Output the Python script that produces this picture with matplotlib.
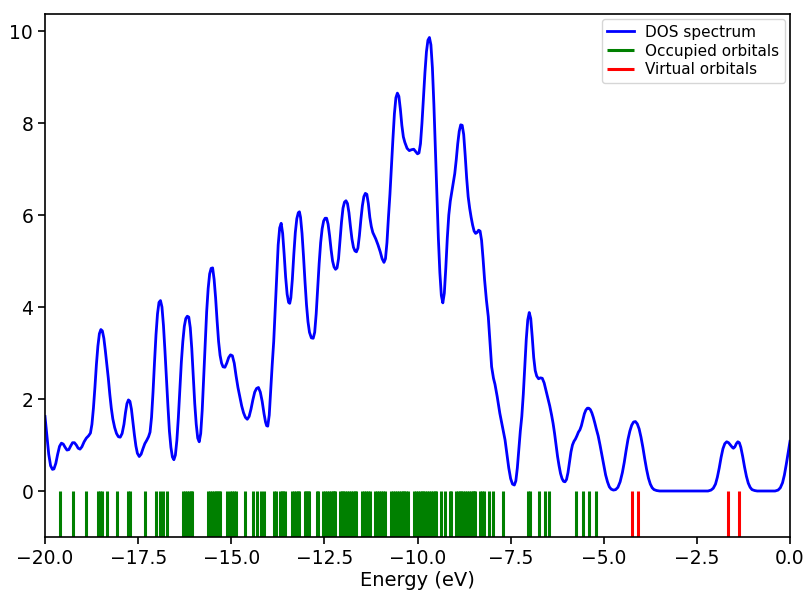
#!/usr/bin/python3

"""DOS spectrum with occupied and virtual orbital levels."""

import matplotlib
matplotlib.use('Agg')
import matplotlib.pyplot as plt


# DOS curve: energy (eV), density
dos_energy = [
    -20.00, -19.95, -19.90, -19.85, -19.80, -19.76, -19.71, -19.66, -19.61, -19.56,
    -19.51, -19.46, -19.41, -19.36, -19.31, -19.26, -19.21, -19.16, -19.11, -19.06,
    -19.01, -18.95, -18.89, -18.83, -18.78, -18.74, -18.70, -18.66, -18.62, -18.58,
    -18.54, -18.50, -18.46, -18.42, -18.38, -18.34, -18.30, -18.26, -18.22, -18.18,
    -18.13, -18.08, -18.03, -17.98, -17.93, -17.88, -17.84, -17.80, -17.76, -17.72,
    -17.68, -17.64, -17.60, -17.56, -17.52, -17.47, -17.42, -17.37, -17.32, -17.27,
    -17.22, -17.18, -17.14, -17.10, -17.06, -17.02, -16.98, -16.94, -16.90, -16.86,
    -16.82, -16.78, -16.74, -16.70, -16.66, -16.62, -16.58, -16.54, -16.50, -16.46,
    -16.42, -16.38, -16.34, -16.30, -16.26, -16.22, -16.18, -16.14, -16.10, -16.06,
    -16.02, -15.98, -15.94, -15.90, -15.86, -15.82, -15.78, -15.74, -15.70, -15.66,
    -15.62, -15.58, -15.54, -15.50, -15.46, -15.42, -15.38, -15.34, -15.30, -15.26,
    -15.22, -15.17, -15.12, -15.07, -15.02, -14.97, -14.92, -14.87, -14.82, -14.77,
    -14.72, -14.67, -14.62, -14.57, -14.52, -14.47, -14.42, -14.37, -14.32, -14.27,
    -14.22, -14.17, -14.12, -14.08, -14.05, -14.02, -13.98, -13.94, -13.90, -13.86,
    -13.82, -13.78, -13.74, -13.70, -13.66, -13.62, -13.58, -13.54, -13.50, -13.46,
    -13.43, -13.40, -13.36, -13.32, -13.28, -13.24, -13.20, -13.17, -13.14, -13.10,
    -13.06, -13.02, -12.98, -12.94, -12.90, -12.85, -12.80, -12.76, -12.72, -12.68,
    -12.64, -12.60, -12.56, -12.52, -12.48, -12.44, -12.40, -12.36, -12.32, -12.28,
    -12.24, -12.20, -12.16, -12.12, -12.08, -12.04, -12.00, -11.96, -11.92, -11.88,
    -11.84, -11.80, -11.76, -11.72, -11.68, -11.64, -11.60, -11.56, -11.52, -11.48,
    -11.44, -11.40, -11.36, -11.32, -11.28, -11.24, -11.20, -11.16, -11.12, -11.06,
    -11.00, -10.95, -10.90, -10.86, -10.82, -10.78, -10.74, -10.70, -10.66, -10.62,
    -10.58, -10.54, -10.50, -10.46, -10.42, -10.38, -10.34, -10.28, -10.22, -10.16,
    -10.10, -10.05, -10.00, -9.96, -9.92, -9.88, -9.84, -9.80, -9.76, -9.72,
    -9.68, -9.64, -9.60, -9.56, -9.52, -9.48, -9.44, -9.40, -9.36, -9.32,
    -9.28, -9.24, -9.20, -9.16, -9.12, -9.08, -9.04, -9.00, -8.96, -8.92,
    -8.88, -8.84, -8.80, -8.76, -8.72, -8.68, -8.64, -8.60, -8.56, -8.52,
    -8.48, -8.44, -8.40, -8.36, -8.32, -8.28, -8.24, -8.20, -8.15, -8.10,
    -8.05, -8.01, -7.96, -7.92, -7.86, -7.79, -7.72, -7.65, -7.60, -7.55,
    -7.50, -7.45, -7.40, -7.36, -7.32, -7.28, -7.24, -7.20, -7.16, -7.12,
    -7.08, -7.04, -7.00, -6.96, -6.92, -6.88, -6.84, -6.80, -6.75, -6.70,
    -6.65, -6.60, -6.55, -6.50, -6.45, -6.40, -6.36, -6.32, -6.28, -6.24,
    -6.20, -6.16, -6.12, -6.08, -6.04, -6.00, -5.96, -5.92, -5.88, -5.84,
    -5.80, -5.76, -5.72, -5.68, -5.64, -5.60, -5.56, -5.52, -5.48, -5.44,
    -5.40, -5.36, -5.32, -5.28, -5.24, -5.20, -5.15, -5.10, -5.05, -5.00,
    -4.95, -4.90, -4.85, -4.80, -4.74, -4.68, -4.62, -4.56, -4.50, -4.45,
    -4.40, -4.35, -4.30, -4.25, -4.20, -4.15, -4.10, -4.05, -4.00, -3.95,
    -3.90, -3.85, -3.80, -3.75, -3.70, -3.65, -3.58, -3.50, -2.20, -2.12,
    -2.06, -2.00, -1.95, -1.90, -1.85, -1.80, -1.75, -1.70, -1.65, -1.60,
    -1.55, -1.52, -1.48, -1.44, -1.40, -1.36, -1.32, -1.27, -1.22, -1.17,
    -1.12, -1.07, -1.02, -0.95, -0.88, -0.40, -0.32, -0.26, -0.20, -0.15,
    -0.10, -0.05, 0.00,
]
dos_value = [
    1.62, 1.20, 0.80, 0.55, 0.47, 0.48, 0.60, 0.80, 0.97, 1.04,
    1.02, 0.95, 0.89, 0.90, 0.98, 1.05, 1.05, 1.00, 0.93, 0.91,
    0.96, 1.07, 1.15, 1.20, 1.26, 1.45, 1.80, 2.25, 2.75, 3.15,
    3.42, 3.51, 3.48, 3.32, 3.05, 2.75, 2.45, 2.10, 1.80, 1.57,
    1.38, 1.25, 1.18, 1.17, 1.25, 1.45, 1.70, 1.90, 1.98, 1.95,
    1.78, 1.50, 1.22, 0.98, 0.82, 0.75, 0.80, 0.92, 1.03, 1.10,
    1.18, 1.28, 1.60, 2.15, 2.80, 3.40, 3.85, 4.10, 4.14, 4.00,
    3.60, 3.05, 2.45, 1.85, 1.30, 0.95, 0.74, 0.68, 0.78, 1.10,
    1.60, 2.20, 2.80, 3.25, 3.58, 3.75, 3.80, 3.78, 3.55, 3.10,
    2.50, 1.90, 1.45, 1.15, 1.07, 1.25, 1.75, 2.45, 3.20, 3.90,
    4.40, 4.72, 4.84, 4.85, 4.60, 4.20, 3.70, 3.25, 2.95, 2.78,
    2.70, 2.69, 2.78, 2.90, 2.96, 2.94, 2.78, 2.50, 2.25, 2.05,
    1.85, 1.70, 1.60, 1.56, 1.62, 1.78, 1.98, 2.15, 2.23, 2.25,
    2.15, 1.95, 1.68, 1.50, 1.42, 1.41, 1.65, 2.20, 2.75, 3.25,
    3.95, 4.70, 5.35, 5.72, 5.82, 5.60, 5.15, 4.65, 4.28, 4.10,
    4.08, 4.20, 4.60, 5.15, 5.62, 5.92, 6.05, 6.07, 5.95, 5.60,
    5.10, 4.55, 4.05, 3.68, 3.45, 3.33, 3.32, 3.45, 3.85, 4.40,
    4.95, 5.40, 5.70, 5.87, 5.93, 5.93, 5.80, 5.55, 5.25, 5.00,
    4.87, 4.82, 4.85, 5.05, 5.45, 5.85, 6.15, 6.28, 6.31, 6.25,
    6.05, 5.75, 5.48, 5.30, 5.22, 5.20, 5.28, 5.55, 5.90, 6.20,
    6.40, 6.47, 6.45, 6.25, 5.95, 5.75, 5.62, 5.55, 5.48, 5.35,
    5.20, 5.05, 4.97, 5.05, 5.40, 5.95, 6.45, 7.05, 7.65, 8.20,
    8.55, 8.65, 8.58, 8.30, 7.95, 7.70, 7.58, 7.45, 7.40, 7.42,
    7.43, 7.38, 7.33, 7.35, 7.55, 8.00, 8.55, 9.10, 9.55, 9.80,
    9.86, 9.70, 9.20, 8.40, 7.45, 6.45, 5.50, 4.75, 4.25, 4.09,
    4.30, 4.85, 5.50, 6.00, 6.30, 6.50, 6.70, 6.90, 7.20, 7.55,
    7.82, 7.96, 7.95, 7.75, 7.30, 6.80, 6.40, 6.15, 5.95, 5.78,
    5.65, 5.60, 5.62, 5.67, 5.65, 5.45, 5.05, 4.60, 4.15, 3.79,
    3.20, 2.70, 2.45, 2.32, 2.05, 1.69, 1.40, 1.11, 0.80, 0.50,
    0.27, 0.15, 0.13, 0.22, 0.50, 0.90, 1.30, 1.62, 2.10, 2.70,
    3.30, 3.72, 3.88, 3.75, 3.35, 2.90, 2.62, 2.50, 2.44, 2.46,
    2.45, 2.35, 2.18, 2.00, 1.85, 1.65, 1.47, 1.25, 1.00, 0.75,
    0.55, 0.38, 0.27, 0.21, 0.20, 0.25, 0.40, 0.62, 0.85, 1.00,
    1.08, 1.13, 1.20, 1.28, 1.33, 1.42, 1.55, 1.68, 1.76, 1.80,
    1.80, 1.77, 1.70, 1.60, 1.48, 1.35, 1.20, 1.00, 0.78, 0.55,
    0.35, 0.20, 0.09, 0.04, 0.02, 0.03, 0.08, 0.20, 0.40, 0.62,
    0.88, 1.12, 1.30, 1.43, 1.50, 1.51, 1.46, 1.35, 1.17, 0.95,
    0.70, 0.47, 0.28, 0.15, 0.07, 0.03, 0.01, 0.00, 0.00, 0.02,
    0.06, 0.15, 0.30, 0.50, 0.73, 0.92, 1.03, 1.07, 1.05, 1.00,
    0.95, 0.93, 0.96, 1.03, 1.07, 1.05, 0.95, 0.75, 0.52, 0.32,
    0.17, 0.08, 0.03, 0.01, 0.00, 0.00, 0.02, 0.07, 0.18, 0.35,
    0.58, 0.83, 1.08,
]

# orbital energies (eV) read from the stick positions
occupied = [
    -19.60, -19.24, -18.91, -18.57, -18.52, -18.47, -18.33, -18.08,
    -17.77, -17.72, -17.32, -17.02, -16.91, -16.82, -16.73,
    -16.29, -16.24, -16.19, -16.14, -16.09, -16.06,
    -15.62, -15.57, -15.52, -15.47, -15.42, -15.37, -15.32, -15.30,
    -15.12, -15.03, -14.98, -14.93, -14.88,
    -14.63, -14.41, -14.32, -14.21, -14.11, -13.85, -13.81,
    -13.70, -13.65, -13.60, -13.55,
    -13.36, -13.31, -13.26, -13.21, -13.18,
    -13.03, -12.98, -12.93, -12.91, -12.71, -12.68,
    -12.53, -12.48, -12.43, -12.38, -12.33, -12.28, -12.23, -12.21,
    -12.09, -12.04, -11.99, -11.94, -11.89, -11.84, -11.79, -11.74, -11.69,
    -11.64,
    -11.48, -11.43, -11.38, -11.33, -11.28,
    -11.13, -11.08, -11.03, -10.98, -10.93, -10.88,
    -10.70, -10.65, -10.60, -10.55, -10.50, -10.45, -10.40, -10.35, -10.30,
    -10.25,
    -10.09, -10.04, -9.99, -9.94, -9.89, -9.84, -9.79, -9.74, -9.69, -9.64,
    -9.59, -9.54, -9.50,
    -9.37, -9.26, -9.14, -9.10,
    -8.97, -8.92, -8.87, -8.82, -8.77, -8.72, -8.67, -8.62, -8.57, -8.52,
    -8.47, -8.45,
    -8.31, -8.26, -8.21, -8.09, -7.96, -7.71,
    -7.04, -6.97, -6.75, -6.58, -6.47,
    -5.75, -5.55, -5.40, -5.20,
]
virtual = [-4.25, -4.07, -1.67, -1.36]

FONT = 13.5


def main():
    fig = plt.figure(figsize=(8.07, 5.91), dpi=100)
    ax = fig.add_axes([45 / 807, 54 / 591, 745 / 807, 523 / 591])

    ax.plot(dos_energy, dos_value, 'b', lw=2.0, label='DOS spectrum')
    ax.vlines(occupied, -1, 0, colors='g', lw=2.2, label='Occupied orbitals')
    ax.vlines(virtual, -1, 0, colors='r', lw=2.2, label='Virtual orbitals')

    ax.set_xlim(-20, 0)
    ax.set_ylim(-1, 10.37)
    ax.set_xticks([-20, -17.5, -15, -12.5, -10, -7.5, -5, -2.5, 0])
    ax.set_yticks([0, 2, 4, 6, 8, 10])
    ax.tick_params(labelsize=FONT, length=5, width=1.2)
    for side in ax.spines.values():
        side.set_linewidth(1.2)
    ax.set_xlabel('Energy (eV)', fontsize=FONT + 0.5, labelpad=2)
    ax.legend(loc='upper right', fontsize=11, labelspacing=0.25,
              borderpad=0.35, handlelength=1.8, handletextpad=0.7,
              borderaxespad=0.35)

    fig.savefig('out.png', dpi=100)


if __name__ == '__main__':
    main()
